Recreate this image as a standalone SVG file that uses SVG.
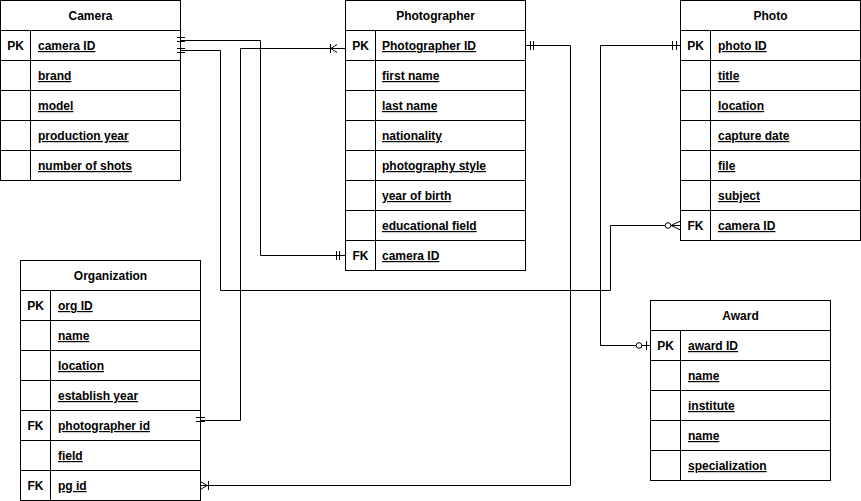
<svg xmlns="http://www.w3.org/2000/svg" width="861" height="501" viewBox="0 0 861 501">
<style>
.box{fill:#fff;stroke:#000;stroke-width:1}
.ln{fill:none;stroke:#000;stroke-width:1}
.hd{font-family:"Liberation Sans",Arial,sans-serif;font-size:12px;font-weight:bold;text-anchor:middle;fill:#000}
.key{font-family:"Liberation Sans",Arial,sans-serif;font-size:12px;font-weight:bold;text-anchor:middle;fill:#000}
.at{font-family:"Liberation Sans",Arial,sans-serif;font-size:12px;font-weight:bold;text-decoration:underline;fill:#000}
.cn{fill:none;stroke:#000;stroke-width:1}
.mk{fill:none;stroke:#000;stroke-width:1}
.ci{fill:#fff;stroke:#000;stroke-width:1}
</style>
<rect width="861" height="501" fill="#fff"/>

<g id="camera">
<rect class="box" x="0.5" y="0.5" width="180" height="180"/>
<path class="ln" d="M0.5,30.5H180.5M0.5,60.5H180.5M0.5,90.5H180.5M0.5,120.5H180.5M0.5,150.5H180.5M30.5,30.5V180.5"/>
<text class="hd" x="90.5" y="20">Camera</text>
<text class="key" x="15.5" y="50">PK</text>
<text class="at" x="38" y="50">camera ID</text>
<text class="at" x="38" y="80">brand</text>
<text class="at" x="38" y="110">model</text>
<text class="at" x="38" y="140">production year</text>
<text class="at" x="38" y="170">number of shots</text>
</g>

<g id="photographer">
<rect class="box" x="345.5" y="0.5" width="180" height="270"/>
<path class="ln" d="M345.5,30.5H525.5M345.5,60.5H525.5M345.5,90.5H525.5M345.5,120.5H525.5M345.5,150.5H525.5M345.5,180.5H525.5M345.5,210.5H525.5M345.5,240.5H525.5M375.5,30.5V270.5"/>
<text class="hd" x="435.5" y="20">Photographer</text>
<text class="key" x="360.5" y="50">PK</text>
<text class="at" x="382" y="50">Photographer ID</text>
<text class="at" x="382" y="80">first name</text>
<text class="at" x="382" y="110">last name</text>
<text class="at" x="382" y="140">nationality</text>
<text class="at" x="382" y="170">photography style</text>
<text class="at" x="382" y="200">year of birth</text>
<text class="at" x="382" y="230">educational field</text>
<text class="key" x="360.5" y="260">FK</text>
<text class="at" x="382" y="260">camera ID</text>
</g>

<g id="photo">
<rect class="box" x="680.5" y="0.5" width="180" height="240"/>
<path class="ln" d="M680.5,30.5H860.5M680.5,60.5H860.5M680.5,90.5H860.5M680.5,120.5H860.5M680.5,150.5H860.5M680.5,180.5H860.5M680.5,210.5H860.5M710.5,30.5V240.5"/>
<text class="hd" x="770.5" y="20">Photo</text>
<text class="key" x="695.5" y="50">PK</text>
<text class="at" x="718" y="50">photo ID</text>
<text class="at" x="718" y="80">title</text>
<text class="at" x="718" y="110">location</text>
<text class="at" x="718" y="140">capture date</text>
<text class="at" x="718" y="170">file</text>
<text class="at" x="718" y="200">subject</text>
<text class="key" x="695.5" y="230">FK</text>
<text class="at" x="718" y="230">camera ID</text>
</g>

<g id="organization">
<rect class="box" x="20.5" y="260.5" width="180" height="240"/>
<path class="ln" d="M20.5,290.5H200.5M20.5,320.5H200.5M20.5,350.5H200.5M20.5,380.5H200.5M20.5,410.5H200.5M20.5,440.5H200.5M20.5,470.5H200.5M50.5,290.5V500.5"/>
<text class="hd" x="110.5" y="280">Organization</text>
<text class="key" x="35.5" y="310">PK</text>
<text class="at" x="58" y="310">org ID</text>
<text class="at" x="58" y="340">name</text>
<text class="at" x="58" y="370">location</text>
<text class="at" x="58" y="400">establish year</text>
<text class="key" x="35.5" y="430">FK</text>
<text class="at" x="58" y="430">photographer id</text>
<text class="at" x="58" y="460">field</text>
<text class="key" x="35.5" y="490">FK</text>
<text class="at" x="58" y="490">pg id</text>
</g>

<g id="award">
<rect class="box" x="650.5" y="300.5" width="180" height="180"/>
<path class="ln" d="M650.5,330.5H830.5M650.5,360.5H830.5M650.5,390.5H830.5M650.5,420.5H830.5M650.5,450.5H830.5M680.5,330.5V480.5"/>
<text class="hd" x="740.5" y="320">Award</text>
<text class="key" x="665.5" y="350">PK</text>
<text class="at" x="688" y="350">award ID</text>
<text class="at" x="688" y="380">name</text>
<text class="at" x="688" y="410">institute</text>
<text class="at" x="688" y="440">name</text>
<text class="at" x="688" y="470">specialization</text>
</g>

<g id="connectors">
<!-- Camera PK -> Photographer FK -->
<path class="cn" d="M180.5,40.5H260.5V255.5H345.5"/>
<path class="mk" d="M177,37.5H185M177,41.5H185"/>
<path class="mk" d="M336.5,251V260M339.5,251V260"/>
<!-- Camera PK -> Photo FK -->
<path class="cn" d="M180.5,50.5H220.5V290.5H610.5V225.5H680.5"/>
<path class="mk" d="M177,48.5H185M177,52.5H185"/>
<path class="mk" d="M671,225.5L680.5,221M671,225.5L680.5,230"/>
<circle class="ci" cx="668" cy="225.5" r="2.8"/>
<!-- Organization photographer id -> Photographer PK -->
<path class="cn" d="M200.5,420.5H240.5V48.5H345.5"/>
<path class="mk" d="M196,417.5H205M196,421.5H205"/>
<path class="mk" d="M330.5,44V53M331,48.5L337,44.5M331,48.5L337,52.5"/>
<!-- Organization pg id -> Photographer PK -->
<path class="cn" d="M200.5,485.5H570.5V45.5H525.5"/>
<path class="mk" d="M200.5,481.5L207,485.5L200.5,489.5M208.5,481V490"/>
<path class="mk" d="M530.5,41V50M533.5,41V50"/>
<!-- Photo PK -> Award PK -->
<path class="cn" d="M680.5,45.5H600.5V345.5H650.5"/>
<path class="mk" d="M672.5,41V50M676.5,41V50"/>
<circle class="ci" cx="639" cy="345.5" r="2.8"/>
<path class="mk" d="M646.5,341V350"/>
</g>
</svg>
